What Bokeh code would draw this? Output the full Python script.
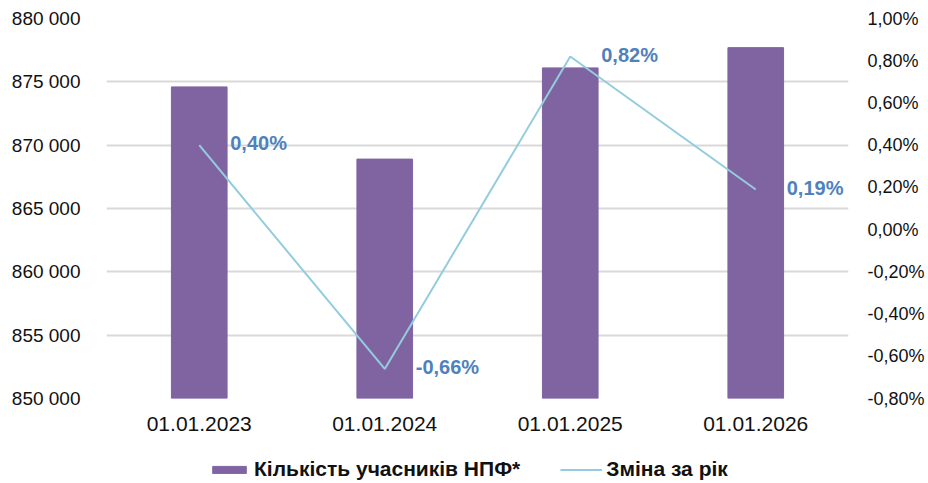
from bokeh.plotting import figure
from bokeh.layouts import column
from bokeh.models import (FactorRange, Range1d, LinearAxis, FixedTicker, CustomJSTickFormatter,
                          ColumnDataSource, LabelSet, Legend, LegendItem)
from bokeh.core.properties import value
from bokeh.embed import file_html
from bokeh.resources import INLINE

dates = ["01.01.2023", "01.01.2024", "01.01.2025", "01.01.2026"]
participants = [874600, 868900, 876100, 877700]
change_pct = [0.40, -0.66, 0.82, 0.19]
left_ticks = [850000, 855000, 860000, 865000, 870000, 875000, 880000]
right_ticks = [-0.8, -0.6, -0.4, -0.2, 0.0, 0.2, 0.4, 0.6, 0.8, 1.0]
bar_label = "Кількість учасників НПФ*"
line_label = "Зміна за рік"

change_text = [f"{v:.2f}".replace(".", ",") + "%" for v in change_pct]

FONT = "Liberation Sans"
BAR_COLOR = "#8064A2"
LINE_COLOR = "#93CDDD"
LABEL_COLOR = "#4F81BD"
TEXT_COLOR = "#111111"

src = ColumnDataSource(dict(date=dates, n=participants, pct=change_pct, txt=change_text))

p = figure(x_range=FactorRange(factors=dates, range_padding=0),
           y_range=Range1d(left_ticks[0], left_ticks[-1]),
           width=928, height=445, output_backend="svg", toolbar_location=None,
           min_border_left=106, min_border_right=80, min_border_top=18, min_border_bottom=47)
p.extra_y_ranges = {"pct": Range1d(right_ticks[0], right_ticks[-1])}

p.outline_line_color = None
p.background_fill_color = "white"
p.border_fill_color = "white"

# left axis
ly = p.yaxis[0]
ly.ticker = FixedTicker(ticks=left_ticks)
ly.formatter = CustomJSTickFormatter(code="""
    return String(Math.round(tick)).replace(/\\B(?=(\\d{3})+(?!\\d))/g, ' ');
""")
ly.axis_line_color = None
ly.major_tick_line_color = None
ly.minor_tick_line_color = None
ly.major_tick_out = 0
ly.major_tick_in = 0
ly.major_label_standoff = 26
ly.major_label_text_font = FONT
ly.major_label_text_font_size = "19px"
ly.major_label_text_color = TEXT_COLOR

# right axis
ry = LinearAxis(y_range_name="pct")
ry.ticker = FixedTicker(ticks=right_ticks)
ry.formatter = CustomJSTickFormatter(code="""
    var v = Math.abs(tick) < 1e-9 ? 0 : tick;
    return v.toFixed(2).replace('.', ',') + '%';
""")
ry.axis_line_color = None
ry.major_tick_line_color = None
ry.minor_tick_line_color = None
ry.major_tick_out = 0
ry.major_tick_in = 0
ry.major_label_standoff = 19
ry.major_label_text_font = FONT
ry.major_label_text_font_size = "18px"
ry.major_label_text_color = TEXT_COLOR
p.add_layout(ry, "right")

# x axis
xa = p.xaxis[0]
xa.axis_line_color = None
xa.major_tick_line_color = None
xa.minor_tick_line_color = None
xa.major_tick_out = 0
xa.major_tick_in = 0
xa.major_label_standoff = 18
xa.major_label_text_font = FONT
xa.major_label_text_font_size = "21px"
xa.major_label_text_color = TEXT_COLOR

p.xgrid.visible = False
p.ygrid.ticker = ly.ticker
p.ygrid.grid_line_color = "#D9D9D9"
p.ygrid.grid_line_width = 2

bars = p.vbar(x="date", top="n", bottom=left_ticks[0], width=0.3, source=src,
              fill_color=BAR_COLOR, line_color=BAR_COLOR)
line = p.line(x="date", y="pct", y_range_name="pct", source=src,
              line_color=LINE_COLOR, line_width=2)

labels = LabelSet(x="date", y="pct", text="txt", y_range_name="pct", source=src,
                  x_offset=31, y_offset=2, text_baseline="middle", text_align="left",
                  text_font=value(FONT), text_font_style="bold", text_font_size="20px",
                  text_color=LABEL_COLOR)
p.add_layout(labels)

# legend strip below the chart
pl = figure(x_range=p.x_range, y_range=Range1d(0, 1), width=928, height=38,
            output_backend="svg", toolbar_location=None, min_border=0,
            x_axis_location=None, y_axis_location=None)
pl.outline_line_color = None
pl.grid.visible = False
lbars = pl.vbar(x="date", top="n", bottom=left_ticks[0], width=0.3, source=src,
                fill_color=BAR_COLOR, line_color=BAR_COLOR, visible=False)
lline = pl.line(x="date", y="pct", source=src, line_color=LINE_COLOR, line_width=2,
                visible=False)

legend = Legend(items=[LegendItem(label=bar_label, renderers=[lbars]),
                       LegendItem(label=line_label, renderers=[lline])],
                location=(102, 2), orientation="horizontal",
                glyph_width=42, glyph_height=9, label_standoff=4, spacing=40,
                padding=0, margin=0, border_line_color=None, background_fill_alpha=0,
                inactive_fill_alpha=0,
                label_text_font=FONT, label_text_font_style="bold",
                label_text_font_size="21px", label_text_color=TEXT_COLOR)
pl.add_layout(legend, "center")

layout = column(p, pl, spacing=0)
open("out.html", "w").write(file_html(layout, INLINE))
